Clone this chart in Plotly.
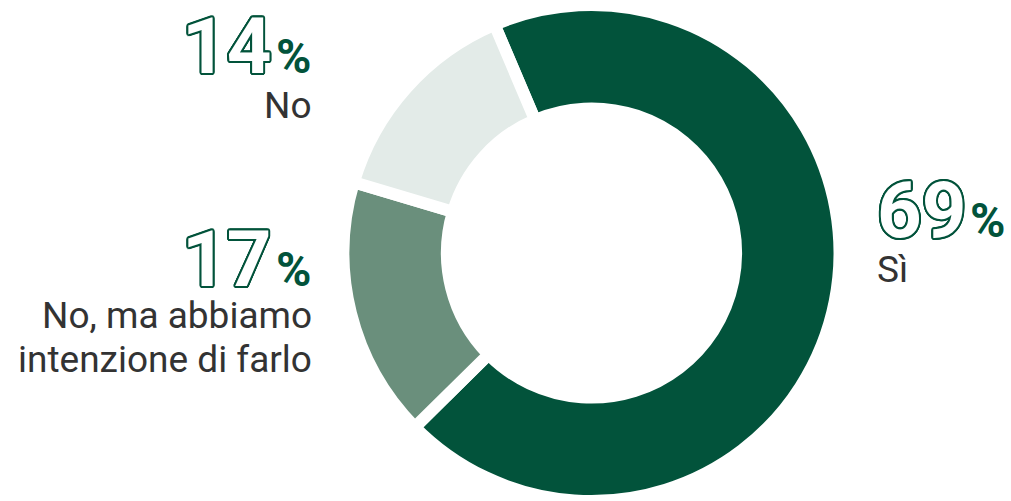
import plotly.graph_objects as go

# Survey answers and their shares (percent)
categories = ["Sì", "No, ma abbiamo intenzione di farlo", "No"]
shares = [69, 17, 14]
label_lines = [["Sì"], ["No, ma abbiamo", "intenzione di farlo"], ["No"]]

slice_colors = ["#02533b", "#6a8f7c", "#e3ebe8"]
GREEN = "#02533b"
TEXT = "#333333"

W, H = 1011, 501

fig = go.Figure(
    go.Pie(
        labels=categories,
        values=shares,
        sort=False,
        direction="clockwise",
        rotation=-23,
        hole=0.583,
        marker=dict(colors=slice_colors, line=dict(color="white", width=12)),
        textinfo="none",
        hoverinfo="label+percent",
        domain=dict(x=[343.5 / W, 839.5 / W], y=[0.0, 0.99]),
        showlegend=False,
    )
)

# Outline effect for the big numbers: white glyph with a ring of green shadows
d = 2
diag = 1.4
outline = ", ".join(
    f"{GREEN} {dx}px {dy}px 0"
    for dx, dy in [(d, 0), (-d, 0), (0, d), (0, -d),
                   (diag, diag), (-diag, diag), (diag, -diag), (-diag, -diag),
                   (1, 1.7), (-1, 1.7), (1, -1.7), (-1, -1.7),
                   (1.7, 1), (-1.7, 1), (1.7, -1), (-1.7, -1)]
)

NUM_SIZE = 78
PCT_SIZE = 48
LBL_SIZE = 37
ASC, DESC = 0.928, 0.244  # Roboto vertical metrics


def add_text(text, x_px, baseline_px, size, anchor, color, weight=400, shadow=None):
    mid = baseline_px - (ASC - DESC) / 2 * size
    font = dict(family="Roboto", size=size, color=color, weight=weight)
    if shadow:
        font["shadow"] = shadow
    fig.add_annotation(
        text=text, x=x_px / W, y=1 - mid / H, xref="paper", yref="paper",
        xanchor=anchor, yanchor="middle", showarrow=False, font=font,
        borderpad=0,
    )


# Block layout for each slice: where the number sits and which side it aligns to
blocks = [
    dict(side="left", x=876, base=237, label_base=[281.7]),
    dict(side="right", x=312, base=285.7, label_base=[328, 372]),
    dict(side="right", x=312, base=72.7, label_base=[118.5]),
]

for value, lines, b in zip(shares, label_lines, blocks):
    if b["side"] == "right":
        add_text("%", b["x"], b["base"], PCT_SIZE, "right", GREEN, 700)
        add_text(str(value), b["x"] - 39, b["base"], NUM_SIZE, "right", "white", 700, outline)
        for line, lb in zip(lines, b["label_base"]):
            add_text(line, b["x"] + 1, lb, LBL_SIZE, "right", TEXT)
    else:
        add_text(str(value), b["x"] + 0, b["base"], NUM_SIZE, "left", "white", 700, outline)
        add_text("%", b["x"] + 93, b["base"], PCT_SIZE, "left", GREEN, 700)
        for line, lb in zip(lines, b["label_base"]):
            add_text(line, b["x"], lb, LBL_SIZE, "left", TEXT)

fig.update_layout(
    width=W, height=H,
    margin=dict(l=0, r=0, t=0, b=0),
    paper_bgcolor="white", plot_bgcolor="white",
)

fig.write_html("out.html")
